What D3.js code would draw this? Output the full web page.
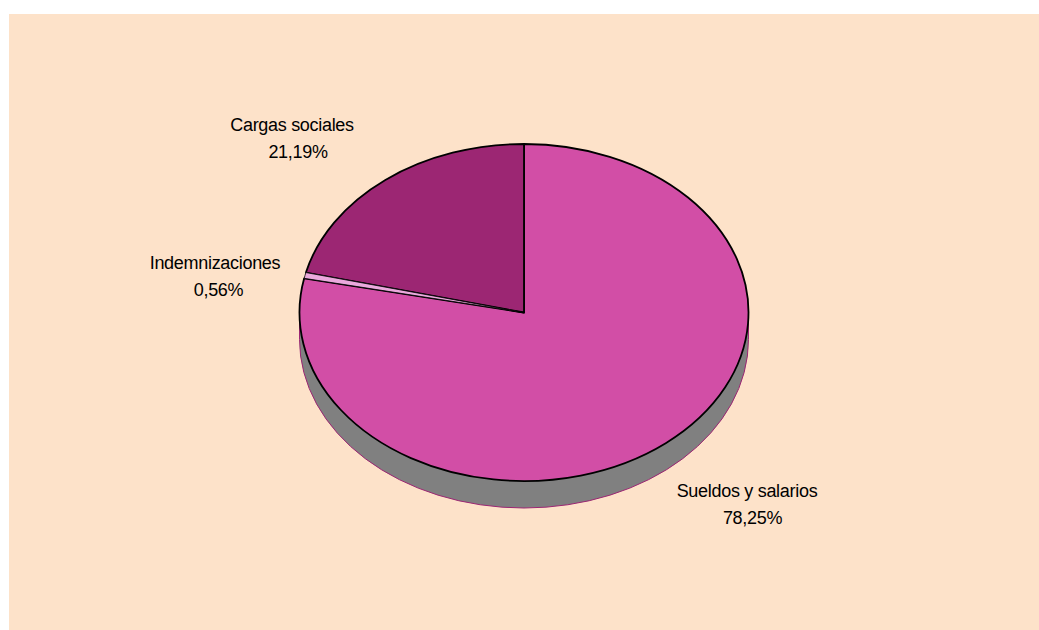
<!DOCTYPE html>
<html><head><meta charset="utf-8">
<script src="https://cdnjs.cloudflare.com/ajax/libs/d3/7.8.5/d3.min.js"></script>
<style>html,body{margin:0;padding:0;background:#fff}svg{display:block}text{font-family:"Liberation Sans",Arial,sans-serif;font-size:18px;fill:#000;text-anchor:middle}</style>
</head><body><div id="c"></div>
<script>
const categories=["Sueldos y salarios","Indemnizaciones","Cargas sociales"];
const values=[78.25,0.56,21.19];
const valueLabels=["78,25%","0,56%","21,19%"];
const colors=["#d24ea6","#eba9dd","#9c2673"];
const W=1039,H=630,cx=524,cy=312.5,rx=224.5,ry=168.5,depth=27;
const k=ry/rx;
const svg=d3.select("#c").append("svg").attr("width",W).attr("height",H);
svg.append("rect").attr("x",9).attr("y",14).attr("width",W-9).attr("height",H-14).attr("fill","#fde2c9");
const g=svg.append("g").attr("transform",`translate(${cx},${cy}) scale(1,${k})`);
const side=d3.path();
side.moveTo(-rx,0);side.lineTo(-rx,depth/k);side.arc(0,depth/k,rx,Math.PI,0,true);side.lineTo(rx,0);side.closePath();
g.append("path").attr("d",side.toString()).attr("fill","#808080").attr("stroke","#9c2673").attr("stroke-width",1).attr("vector-effect","non-scaling-stroke");
const pie=d3.pie().sort(null).value(d=>d);
const arc=d3.arc().innerRadius(0).outerRadius(rx);
g.selectAll("path.s").data(pie(values)).join("path").attr("class","s").attr("d",arc)
 .attr("fill",(d,i)=>colors[i]).attr("stroke","#000").attr("stroke-width",(d,i)=>i===1?0.8:1.8).attr("stroke-linejoin","round").attr("vector-effect","non-scaling-stroke");
g.selectAll("path.s").filter((d,i)=>i===1).raise();
const labelPos=[[747,491],[215,263],[292,125]];
const valueOffset=[5.5,3.5,6];
const lg=svg.selectAll("text.l").data(categories).join("text").attr("class","l")
 .attr("transform",(d,i)=>`translate(${labelPos[i][0]},${labelPos[i][1]})`);
lg.append("tspan").attr("x",0).attr("y",6).attr("letter-spacing",-0.3).text(d=>d);
lg.append("tspan").attr("x",(d,i)=>valueOffset[i]).attr("y",33).attr("letter-spacing",-0.3).text((d,i)=>valueLabels[i]);
</script></body></html>
